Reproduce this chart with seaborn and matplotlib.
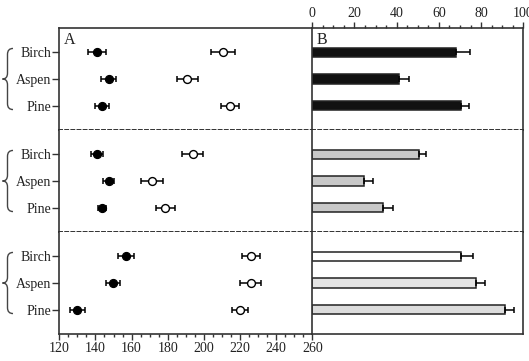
import numpy as np
import matplotlib
matplotlib.use("Agg")
import matplotlib.pyplot as plt
import seaborn as sns
from matplotlib.path import Path
from matplotlib.patches import PathPatch
from matplotlib.ticker import MultipleLocator
import matplotlib.transforms as mtransforms

# ---------------- data ----------------
species = ["Birch", "Aspen", "Pine"]
groups = ["group1", "group2", "group3"]

filled_means = [[141.0, 147.3, 143.6], [141.0, 147.3, 143.6], [156.9, 149.5, 130.0]]
filled_err = [[5.1, 4.0, 4.0], [3.3, 3.1, 2.2], [4.6, 3.9, 4.2]]
open_means = [[210.4, 190.8, 214.5], [193.8, 171.3, 178.7], [225.9, 225.9, 220.0]]
open_err = [[6.6, 5.9, 5.0], [5.7, 6.3, 5.4], [5.0, 5.7, 4.6]]

bar_vals = [[68.1, 40.9, 70.6], [50.4, 24.4, 33.6], [70.6, 77.7, 91.3]]
bar_err = [[6.6, 5.1, 3.5], [3.5, 4.6, 4.6], [5.7, 4.3, 4.3]]
bar_colors = [["#111111", "#111111", "#111111"],
              ["#c8c8c8", "#c8c8c8", "#c8c8c8"],
              ["#ffffff", "#e4e4e4", "#dcdcdc"]]

left_ticks = [120, 140, 160, 180, 200, 220, 240, 260]
right_ticks = [0, 20, 40, 60, 80, 100]

# ---------------- style ----------------
sns.set_theme(style="white")
plt.rcParams["font.family"] = ["Liberation Serif", "DejaVu Serif"]
plt.rcParams["font.size"] = 10

W, H = 529, 361
fig = plt.figure(figsize=(W / 100, H / 100), dpi=100)
gs = fig.add_gridspec(3, 2, left=59.3 / W, right=523.3 / W, top=1 - 28 / H,
                      bottom=1 - 334 / H, hspace=0, wspace=0,
                      width_ratios=[253, 211])

spine_col = "#333333"
dash = (0, (1.7, 1.7))
pos = np.arange(len(species))
ylim = (2.92, -0.92)


def style_spines(ax, row, side):
    for s in ax.spines.values():
        s.set_color(spine_col)
        s.set_linewidth(1.2)
    if row == 0:
        ax.spines["bottom"].set_linestyle(dash)
        ax.spines["bottom"].set_linewidth(1.3)
        ax.spines["bottom"].set_color("#222222")
    elif row == 1:
        ax.spines["top"].set_visible(False)
        ax.spines["bottom"].set_linestyle(dash)
        ax.spines["bottom"].set_linewidth(1.3)
        ax.spines["bottom"].set_color("#222222")
    else:
        ax.spines["top"].set_visible(False)
    if side == "left":
        ax.spines["right"].set_visible(False)


def brace(ax, yc, half):
    tr = mtransforms.blended_transform_factory(fig.transFigure, ax.transData)
    xe, xm, xt = 13 / W, 7.5 / W, 2.5 / W
    r = 0.22
    yt, yb = yc - half, yc + half
    verts = [(xe, yt), (xm, yt), (xm, yt + r),
             (xm, yc - r), (xm, yc), (xt, yc),
             (xm, yc), (xm, yc + r),
             (xm, yb - r), (xm, yb), (xe, yb)]
    codes = [Path.MOVETO, Path.CURVE3, Path.CURVE3,
             Path.LINETO, Path.CURVE3, Path.CURVE3,
             Path.CURVE3, Path.CURVE3,
             Path.LINETO, Path.CURVE3, Path.CURVE3]
    patch = PathPatch(Path(verts, codes), transform=tr, fill=False,
                      edgecolor="#444444", lw=1.0, clip_on=False)
    fig.add_artist(patch)


for row in range(3):
    axL = fig.add_subplot(gs[row, 0])
    axR = fig.add_subplot(gs[row, 1])

    # ---- panel A: dot plot with error bars ----
    axL.errorbar(filled_means[row], pos, xerr=filled_err[row], fmt="none",
                 ecolor="black", elinewidth=1.1, capsize=2.3, capthick=1.1, zorder=2)
    axL.errorbar(open_means[row], pos, xerr=open_err[row], fmt="none",
                 ecolor="black", elinewidth=1.1, capsize=2.3, capthick=1.1, zorder=2)
    sns.scatterplot(x=filled_means[row], y=pos, ax=axL, marker="o", s=34,
                    color="black", edgecolor="black", linewidth=0.8, zorder=3)
    sns.scatterplot(x=open_means[row], y=pos, ax=axL, marker="o", s=32,
                    color="white", edgecolor="black", linewidth=1.0, zorder=3)
    axL.set_xlim(120, 260)
    axL.set_ylim(*ylim)
    axL.set_yticks(pos)
    axL.set_yticklabels(species)
    axL.set_ylabel("")
    axL.tick_params(axis="y", direction="out", length=5, width=1.0,
                    color=spine_col, pad=1, labelsize=10, labelcolor="#222222", left=True)
    style_spines(axL, row, "left")

    # ---- panel B: horizontal bars ----
    sns.barplot(x=bar_vals[row], y=species, hue=species, palette=bar_colors[row],
                orient="h", width=0.35, edgecolor="#222222", linewidth=1.1,
                legend=False, ax=axR, zorder=2)
    axR.errorbar(bar_vals[row], pos,
                 xerr=[np.zeros(len(species)), bar_err[row]], fmt="none",
                 ecolor="black", elinewidth=1.1, capsize=2.3, capthick=1.1, zorder=3)
    axR.set_xlim(0, 100)
    axR.set_ylim(*ylim)
    axR.set_yticks([])
    axR.set_ylabel("")
    axR.set_xlabel("")
    style_spines(axR, row, "right")

    if row == 0:
        axR.xaxis.tick_top()
        axR.set_xticks(right_ticks)
        axR.xaxis.set_minor_locator(MultipleLocator(5))
        axR.tick_params(axis="x", which="major", direction="out", length=4.5, width=1.0,
                        color=spine_col, pad=1.5, labelsize=10, labelcolor="#222222",
                        top=True, bottom=False)
        axR.tick_params(axis="x", which="minor", direction="out", length=2.5, width=1.0,
                        color=spine_col, top=True, bottom=False)
        axR.text(0.022, 0.96, "B", transform=axR.transAxes, ha="left", va="top",
                 fontsize=11.5, color="#222222")
        axL.text(0.019, 0.96, "A", transform=axL.transAxes, ha="left", va="top",
                 fontsize=11.5, color="#222222")
    else:
        axR.set_xticks([])

    if row == 2:
        axL.set_xticks(left_ticks)
        axL.xaxis.set_minor_locator(MultipleLocator(5))
        axL.tick_params(axis="x", which="major", direction="out", length=4.5, width=1.0,
                        color=spine_col, pad=1.5, labelsize=10, labelcolor="#222222",
                        bottom=True)
        axL.tick_params(axis="x", which="minor", direction="out", length=2.5, width=1.0,
                        color=spine_col, bottom=True)
    else:
        axL.set_xticks([])

    brace(axL, 1.0, 1.15)

fig.savefig("out.png", dpi=100)
